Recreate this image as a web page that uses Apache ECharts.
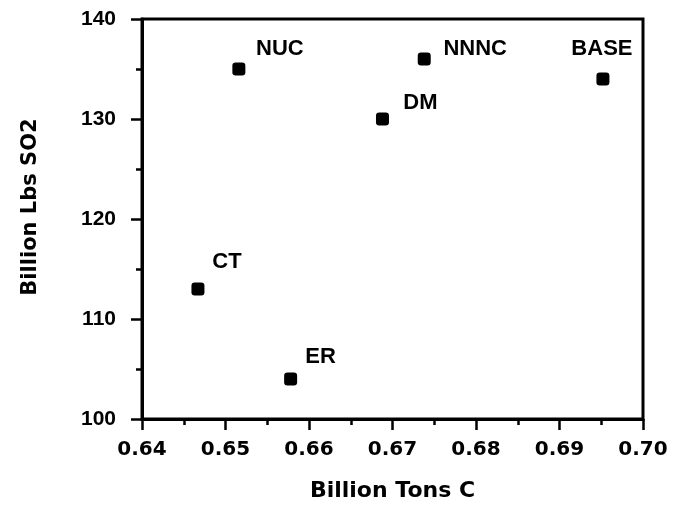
<!DOCTYPE html>
<html>
<head>
<meta charset="utf-8">
<script src="https://cdn.jsdelivr.net/npm/echarts@6/dist/echarts.min.js"></script>
<style>html,body{margin:0;padding:0;background:#fff}#c{width:673px;height:506px}</style>
</head>
<body>
<div id="c"></div>
<script>
// Data
var scenarios = ['NUC', 'NNNC', 'BASE', 'DM', 'CT', 'ER'];
var carbon = [0.6516, 0.6738, 0.6952, 0.6688, 0.6467, 0.6578]; // Billion Tons C
var so2 = [135, 136, 134, 130, 113, 104];                      // Billion Lbs SO2
var xTicks = ['0.64', '0.65', '0.66', '0.67', '0.68', '0.69', '0.70'];
var yTicks = ['100', '110', '120', '130', '140'];

// label offsets (styling only)
var labelOffsets = {
  NUC: [41, -20], NNNC: [51, -10], BASE: [-1, -30],
  DM: [38, -16], CT: [29, -27], ER: [30, -22]
};

var points = scenarios.map(function (name, i) {
  return {
    name: name,
    value: [carbon[i], so2[i]],
    label: { offset: labelOffsets[name] }
  };
});

var chart = echarts.init(document.getElementById('c'), null, { renderer: 'canvas' });
chart.setOption({
  animation: false,
  backgroundColor: '#fff',
  grid: {
    left: 142, right: 30, top: 19, bottom: 87,
    outerBoundsMode: 'none',
    containLabel: false,
    show: true, borderColor: '#000', borderWidth: 3, backgroundColor: 'transparent'
  },
  xAxis: {
    type: 'value',
    min: 0.64, max: 0.70, interval: 0.01,
    name: 'Billion Tons C',
    nameLocation: 'middle',
    nameGap: 61,
    nameTextStyle: { fontFamily: 'DejaVu Sans', fontWeight: 'bold', fontSize: 22, color: '#000' },
    axisLine: { show: true, lineStyle: { color: '#000', width: 3 } },
    axisTick: { show: true, inside: false, length: 11, lineStyle: { color: '#000', width: 2.5 } },
    minorTick: { show: true, splitNumber: 2, length: 6, lineStyle: { color: '#000', width: 2.5 } },
    splitLine: { show: false },
    axisLabel: {
      margin: 21,
      fontFamily: 'DejaVu Sans', fontWeight: 'bold', fontSize: 20, color: '#000',
      formatter: function (v) {
        var idx = Math.round((v - 0.64) / 0.01);
        return xTicks[idx] !== undefined ? xTicks[idx] : v.toFixed(2);
      }
    }
  },
  yAxis: {
    type: 'value',
    min: 100, max: 140, interval: 10,
    name: 'Billion Lbs SO2',
    nameLocation: 'middle',
    nameGap: 101,
    nameRotate: 90,
    nameTextStyle: { fontFamily: 'DejaVu Sans', fontWeight: 'bold', fontSize: 21, color: '#000', padding: [0, 0, 0, 24] },
    axisLine: { show: true, lineStyle: { color: '#000', width: 3 } },
    axisTick: { show: true, inside: false, length: 11, lineStyle: { color: '#000', width: 2.5 } },
    minorTick: { show: true, splitNumber: 2, length: 6, lineStyle: { color: '#000', width: 2.5 } },
    splitLine: { show: false },
    axisLabel: {
      margin: 26,
      fontFamily: 'Liberation Sans', fontWeight: 'bold', fontSize: 21, color: '#000',
      formatter: function (v) {
        var idx = Math.round((v - 100) / 10);
        return yTicks[idx] !== undefined ? yTicks[idx] : String(v);
      }
    }
  },
  series: [{
    type: 'scatter',
    symbol: 'roundRect',
    symbolSize: 13,
    itemStyle: { color: '#000', opacity: 1 },
    label: {
      show: true,
      position: 'inside',
      align: 'center',
      verticalAlign: 'middle',
      formatter: '{b}',
      fontFamily: '"Liberation Sans Narrow", "Liberation Sans", Arial, sans-serif',
      fontWeight: 'bold',
      fontSize: 22,
      color: '#000'
    },
    data: points
  }]
});
</script>
</body>
</html>
